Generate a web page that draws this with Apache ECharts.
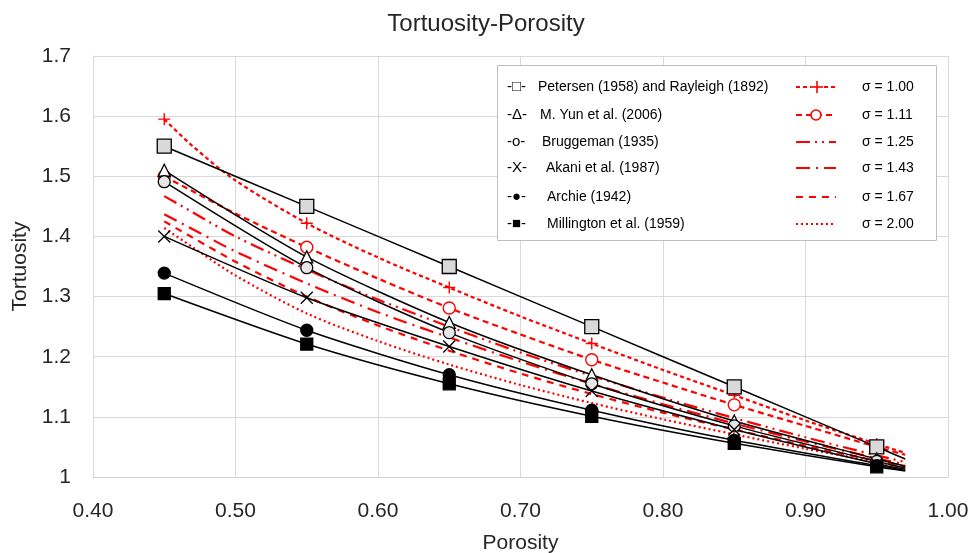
<!DOCTYPE html>
<html>
<head>
<meta charset="utf-8">
<title>Tortuosity-Porosity</title>
<script src="https://cdn.jsdelivr.net/npm/echarts@6/dist/echarts.min.js"></script>
<style>
  html, body { margin: 0; padding: 0; background: #ffffff; }
  #chart { width: 972px; height: 553px; }
</style>
</head>
<body>
<div id="chart"></div>
<script>
// Porosity at which the empirical relations are evaluated (markers on all but the last point)
const porosity = [0.45, 0.55, 0.65, 0.75, 0.85, 0.95, 0.97];
const petersen   = [1.550, 1.450, 1.350, 1.250, 1.150, 1.050, 1.030];
const yun        = [1.510, 1.366, 1.257, 1.170, 1.093, 1.030, 1.018];
const bruggeman  = [1.491, 1.348, 1.240, 1.155, 1.085, 1.026, 1.015];
const akani      = [1.400, 1.298, 1.217, 1.143, 1.079, 1.022, 1.013];
const archie     = [1.339, 1.244, 1.170, 1.111, 1.061, 1.019, 1.011];
const millington = [1.305, 1.221, 1.155, 1.101, 1.056, 1.017, 1.010];

// Model curves for each sigma
const porosityFine = [0.45, 0.47, 0.50, 0.55, 0.60, 0.65, 0.70, 0.75, 0.80, 0.85, 0.90, 0.95, 0.97];
const sigma100 = [1.595, 1.550, 1.493, 1.422, 1.365, 1.315, 1.267, 1.222, 1.178, 1.136, 1.094, 1.055, 1.040];
const sigma111 = [1.500, 1.475, 1.438, 1.382, 1.330, 1.281, 1.237, 1.195, 1.157, 1.120, 1.085, 1.050, 1.037];
const sigma125 = [1.467, 1.440, 1.400, 1.345, 1.295, 1.250, 1.207, 1.168, 1.132, 1.098, 1.066, 1.036, 1.025];
const sigma143 = [1.437, 1.412, 1.375, 1.322, 1.274, 1.232, 1.192, 1.155, 1.121, 1.089, 1.059, 1.031, 1.021];
const sigma167 = [1.425, 1.398, 1.358, 1.300, 1.252, 1.210, 1.172, 1.138, 1.107, 1.079, 1.052, 1.027, 1.018];
const sigma200 = [1.414, 1.382, 1.335, 1.272, 1.226, 1.187, 1.153, 1.123, 1.096, 1.071, 1.047, 1.025, 1.016];

// Porosities that carry a marker
const markedPorosity = [0.45, 0.55, 0.65, 0.75, 0.85, 0.95];

// Tick labels
const xTickLabels = ['0.40', '0.50', '0.60', '0.70', '0.80', '0.90', '1.00'];
const yTickLabels = ['1', '1.1', '1.2', '1.3', '1.4', '1.5', '1.6', '1.7'];

const FONT = '"Liberation Sans", Arial, sans-serif';
const RED = '#ff0000';
const CROSS = 'path://M0,0L10,10M10,0L0,10';
const PLUS = 'path://M5,0L5,10M0,5L10,5';

function points(xs, ys, symbol) {
  return ys.map((y, i) => ({
    value: [xs[i], y],
    symbol: markedPorosity.indexOf(xs[i]) >= 0 ? symbol : 'none'
  }));
}

function blackSeries(name, ys, symbol, size, fill) {
  return {
    name: name, type: 'line', smooth: 0.25,
    data: points(porosity, ys, symbol),
    symbolSize: size,
    lineStyle: { color: '#000000', width: 1.5 },
    itemStyle: { color: fill, borderColor: '#000000', borderWidth: 1.3 },
    z: 4
  };
}

function redSeries(name, ys, dash, symbol, size) {
  return {
    name: name, type: 'line', smooth: 0.3,
    data: points(porosityFine, ys, symbol || 'none'),
    symbolSize: size || 10,
    lineStyle: { color: RED, width: 2.2, type: dash },
    itemStyle: { color: '#ffffff', borderColor: RED, borderWidth: 1.4 },
    z: 3
  };
}

const series = [
  redSeries('σ = 1.00', sigma100, [4, 3], PLUS, 12),
  redSeries('σ = 1.11', sigma111, [6, 4], 'circle', 12),
  redSeries('σ = 1.25', sigma125, [14, 5, 2, 5, 2, 5]),
  redSeries('σ = 1.43', sigma143, [14, 6, 2, 6]),
  redSeries('σ = 1.67', sigma167, [7, 6]),
  redSeries('σ = 2.00', sigma200, [2, 3]),
  blackSeries('Petersen (1958) and Rayleigh (1892)', petersen, 'rect', 14, '#d9d9d9'),
  blackSeries('M. Yun et al. (2006)', yun, 'triangle', 12, '#ffffff'),
  blackSeries('Bruggeman (1935)', bruggeman, 'circle', 12, '#e6e6e6'),
  blackSeries('Akani et al. (1987)', akani, CROSS, 12, 'none'),
  blackSeries('Archie (1942)', archie, 'circle', 12, '#000000'),
  blackSeries('Millington et al. (1959)', millington, 'rect', 12, '#000000')
];

// Legend box drawn as graphics: left column for the relations, right column for sigma curves
const legendLeft = [
  ['-□-', 'Petersen (1958) and Rayleigh (1892)', 538],
  ['-Δ-', 'M. Yun et al. (2006)', 540],
  ['-o-', 'Bruggeman (1935)', 542],
  ['-X-', 'Akani et al. (1987)', 546],
  ['-●-', 'Archie (1942)', 547],
  ['-■-', 'Millington et al. (1959)', 547]
];
const legendRows = [87, 115, 142, 168, 197, 224];
const legendDash = [[4, 3], [6, 4], [14, 5, 2, 5, 2, 5], [14, 6, 2, 6], [7, 6], [2, 3]];
const legendSigma = ['σ = 1.00', 'σ = 1.11', 'σ = 1.25', 'σ = 1.43', 'σ = 1.67', 'σ = 2.00'];

const legendGraphics = [{
  type: 'rect', shape: { x: 497.5, y: 65.5, width: 439, height: 175 },
  style: { fill: '#ffffff', stroke: '#bfbfbf', lineWidth: 1 }, z: 50
}];
legendLeft.forEach((row, i) => {
  legendGraphics.push({
    type: 'text', x: 507, y: legendRows[i], z: 51,
    style: { text: row[0], font: '15px ' + FONT, fill: '#000000', verticalAlign: 'middle' }
  });
  legendGraphics.push({
    type: 'text', x: row[2], y: legendRows[i], z: 51,
    style: { text: row[1], font: '14px ' + FONT, fill: '#000000', verticalAlign: 'middle' }
  });
});
legendSigma.forEach((label, i) => {
  const y = legendRows[i];
  legendGraphics.push({
    type: 'line', z: 51,
    shape: { x1: 796, y1: y, x2: 836, y2: y },
    style: { stroke: RED, lineWidth: 2, lineDash: legendDash[i] }
  });
  legendGraphics.push({
    type: 'text', x: 862, y: y, z: 51,
    style: { text: label, font: '14px ' + FONT, fill: '#000000', verticalAlign: 'middle' }
  });
});
// "+" and "o" marks on the first two sample lines
legendGraphics.push({
  type: 'rect', z: 52, shape: { x: 811, y: 81, width: 12, height: 12 },
  style: { fill: '#ffffff', stroke: null }
});
legendGraphics.push({
  type: 'line', z: 53, shape: { x1: 817, y1: 81, x2: 817, y2: 93 },
  style: { stroke: RED, lineWidth: 1.6 }
});
legendGraphics.push({
  type: 'line', z: 53, shape: { x1: 811, y1: 87, x2: 823, y2: 87 },
  style: { stroke: RED, lineWidth: 1.6 }
});
legendGraphics.push({
  type: 'circle', z: 52, shape: { cx: 816, cy: 115, r: 5 },
  style: { stroke: RED, lineWidth: 1.6, fill: '#ffffff' }
});

const chart = echarts.init(document.getElementById('chart'), null, { renderer: 'canvas' });
chart.setOption({
  animation: false,
  backgroundColor: '#ffffff',
  title: {
    text: 'Tortuosity-Porosity', left: 'center', top: 7,
    textStyle: { fontFamily: FONT, fontSize: 24, fontWeight: 'normal', color: '#262626' }
  },
  grid: { left: 93, right: 24, top: 56, bottom: 76, containLabel: false, outerBoundsMode: 'none' },
  xAxis: {
    type: 'value', min: 0.4, max: 1.0, interval: 0.1,
    name: 'Porosity', nameLocation: 'middle', nameGap: 56,
    nameTextStyle: { fontFamily: FONT, fontSize: 21, color: '#262626' },
    axisLine: { show: true, lineStyle: { color: '#d0d0d0', width: 1 } },
    axisTick: { show: false },
    axisLabel: {
      fontFamily: FONT, fontSize: 21, color: '#262626', margin: 24,
      formatter: v => xTickLabels[Math.round((v - 0.4) * 10)]
    },
    splitLine: { show: true, lineStyle: { color: '#d9d9d9', width: 1 } }
  },
  yAxis: {
    type: 'value', min: 1.0, max: 1.7, interval: 0.1,
    name: 'Tortuosity', nameLocation: 'middle', nameGap: 58, nameRotate: 90,
    nameTextStyle: { fontFamily: FONT, fontSize: 21, color: '#262626' },
    axisLine: { show: true, lineStyle: { color: '#d9d9d9', width: 1 } },
    axisTick: { show: false },
    axisLabel: {
      fontFamily: FONT, fontSize: 21, color: '#262626', margin: 22,
      formatter: v => yTickLabels[Math.round((v - 1) * 10)]
    },
    splitLine: { show: true, lineStyle: { color: '#d9d9d9', width: 1 } }
  },
  graphic: legendGraphics,
  series: series
});
</script>
</body>
</html>
